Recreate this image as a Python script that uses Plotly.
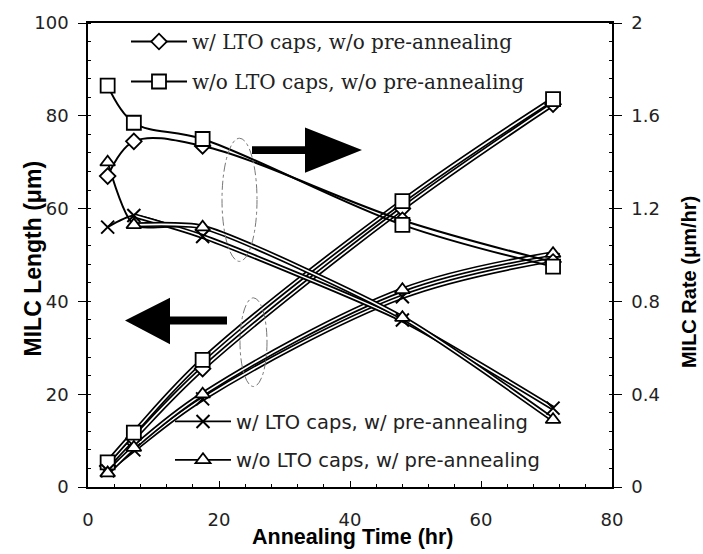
import plotly.graph_objects as go

# Annealing times (hr)
time_hr = [3, 7, 17.5, 48, 71]

# MILC length (um), left axis
len_lto_nopre = [4.5, 10.5, 25.5, 60.0, 82.5]     # w/ LTO caps, w/o pre-annealing
len_nolto_nopre = [5.3, 11.7, 27.4, 61.6, 83.6]   # w/o LTO caps, w/o pre-annealing
len_lto_pre = [3.5, 8.0, 19.0, 41.0, 49.0]        # w/ LTO caps, w/ pre-annealing
len_nolto_pre = [3.0, 8.5, 20.0, 42.5, 50.3]      # w/o LTO caps, w/ pre-annealing

# MILC rate (um/hr), right axis
rate_lto_nopre = [1.34, 1.49, 1.47, 1.15, 0.97]
rate_nolto_nopre = [1.73, 1.57, 1.50, 1.13, 0.95]
rate_lto_pre = [1.12, 1.17, 1.08, 0.72, 0.34]
rate_nolto_pre = [1.40, 1.13, 1.12, 0.73, 0.29]

names = [
    "w/ LTO caps, w/o pre-annealing",
    "w/o LTO caps, w/o pre-annealing",
    "w/ LTO caps, w/ pre-annealing",
    "w/o LTO caps, w/ pre-annealing",
]

SANS = "DejaVu Sans"
SERIF = "DejaVu Serif"
BOLD = "Liberation Sans"

symbols = ["diamond", "square", "x-thin", "triangle-up"]
sizes = [12, 14, 13, 13]

fig = go.Figure()


def marker_style(i):
    if symbols[i] == "x-thin":
        return dict(symbol="x-thin", size=sizes[i], color="black",
                    line=dict(color="black", width=2))
    return dict(symbol=symbols[i], size=sizes[i], color="white",
                line=dict(color="black", width=1.8))


def double_line(x, y, yaxis, smoothing=1.0):
    fig.add_trace(go.Scatter(x=x, y=y, yaxis=yaxis, mode="lines",
                             line=dict(color="black", width=5, shape="spline",
                                       smoothing=smoothing),
                             showlegend=False, hoverinfo="skip"))
    fig.add_trace(go.Scatter(x=x, y=y, yaxis=yaxis, mode="lines",
                             line=dict(color="white", width=1.6, shape="spline",
                                       smoothing=smoothing),
                             showlegend=False, hoverinfo="skip"))


def single_line(x, y, yaxis, smoothing=1.0):
    fig.add_trace(go.Scatter(x=x, y=y, yaxis=yaxis, mode="lines",
                             line=dict(color="black", width=2, shape="spline",
                                       smoothing=smoothing),
                             showlegend=False, hoverinfo="skip"))


lengths = [len_lto_nopre, len_nolto_nopre, len_lto_pre, len_nolto_pre]
rates = [rate_lto_nopre, rate_nolto_nopre, rate_lto_pre, rate_nolto_pre]

# length curves
for i in range(4):
    double_line(time_hr, lengths[i], "y")
# rate curves
for i in range(4):
    if i < 2:
        single_line(time_hr, rates[i], "y2")
    else:
        single_line(time_hr, rates[i], "y2", smoothing=0.6)
        double_line(time_hr[1:], rates[i][1:], "y2", smoothing=0.6)

# markers on top
for i in range(4):
    fig.add_trace(go.Scatter(x=time_hr, y=lengths[i], yaxis="y", mode="markers",
                             marker=marker_style(i), showlegend=False))
    fig.add_trace(go.Scatter(x=time_hr, y=rates[i], yaxis="y2", mode="markers",
                             marker=marker_style(i), showlegend=False))

# legend entries
for i in range(4):
    fig.add_trace(go.Scatter(x=[None], y=[None], mode="lines+markers", name=names[i],
                             line=dict(color="black", width=1.8),
                             marker=marker_style(i), legendgroup=f"g{i}",
                             legend="legend" if i < 2 else "legend2"))

W, H = 703, 554
L, R, T, B = 88, 91, 16, 67


def px(xp):
    return (xp - L) / (W - L - R)


def py(yp):
    return (H - B - yp) / (H - T - B)


shapes = []
# right-pointing arrow (rate axis)
shapes.append(dict(type="path", xref="paper", yref="paper",
                   path=(f"M{px(252)},{py(141)} L{px(305)},{py(141)} L{px(305)},{py(122)} "
                         f"L{px(362)},{py(145)} L{px(305)},{py(168)} L{px(305)},{py(149)} "
                         f"L{px(252)},{py(149)} Z"),
                   fillcolor="black", line=dict(width=0)))
# left-pointing arrow (length axis)
shapes.append(dict(type="path", xref="paper", yref="paper",
                   path=(f"M{px(227)},{py(314)} L{px(170)},{py(314)} L{px(170)},{py(295)} "
                         f"L{px(125)},{py(318)} L{px(170)},{py(342)} L{px(170)},{py(322)} "
                         f"L{px(227)},{py(322)} Z"),
                   fillcolor="black", line=dict(width=0)))
# dash-dot ellipses grouping the curves
shapes.append(dict(type="circle", xref="paper", yref="paper",
                   x0=px(222), x1=px(257), y0=py(258), y1=py(133),
                   line=dict(color="#777", width=1, dash="dashdot")))
shapes.append(dict(type="circle", xref="paper", yref="paper",
                   x0=px(240), x1=px(267), y0=py(385), y1=py(295),
                   line=dict(color="#777", width=1, dash="dashdot")))

annotations = [
    dict(text="<b>MILC Length (\u03bcm)</b>", xref="paper", yref="paper",
         x=px(33), y=py(256), xanchor="center", yanchor="middle",
         textangle=-90, showarrow=False,
         font=dict(family=BOLD, size=23, color="black")),
    dict(text="<b>MILC Rate (\u03bcm/hr)</b>", xref="paper", yref="paper",
         x=px(689), y=py(279), xanchor="center", yanchor="middle",
         textangle=-90, showarrow=False,
         font=dict(family=BOLD, size=20, color="black")),
    dict(text="<b>Annealing Time (hr)</b>", xref="paper", yref="paper",
         x=px(352), y=py(538), xanchor="center", yanchor="middle", showarrow=False,
         font=dict(family=BOLD, size=21.5, color="black")),
]

axis_common = dict(showline=True, linecolor="black", linewidth=1.5,
                   showgrid=False, zeroline=False,
                   tickfont=dict(family=SANS, size=18, color="#222"))

fig.update_layout(
    width=W, height=H,
    margin=dict(l=L, r=R, t=T, b=B),
    paper_bgcolor="white", plot_bgcolor="white",
    shapes=shapes, annotations=annotations,
    xaxis=dict(range=[0, 80], dtick=20, ticks="inside", ticklen=6, tickcolor="black",
               ticklabelstandoff=16, mirror=True,
               minor=dict(dtick=4, ticks="inside", ticklen=3, tickcolor="black"),
               **axis_common),
    yaxis=dict(range=[0, 100], dtick=20, ticks="outside", ticklen=8, tickcolor="black",
               ticklabelstandoff=6,
               minor=dict(dtick=4, ticks="inside", ticklen=3, tickcolor="black"),
               **axis_common),
    yaxis2=dict(range=[0, 2], dtick=0.4, tickformat="~g", overlaying="y", side="right",
                ticks="outside", ticklen=8, tickcolor="black", ticklabelstandoff=6,
                minor=dict(dtick=0.08, ticks="inside", ticklen=3, tickcolor="black"),
                **axis_common),
    legend=dict(x=px(126), y=py(15), xanchor="left", yanchor="top",
                bgcolor="rgba(0,0,0,0)", traceorder="grouped", tracegroupgap=11,
                itemwidth=56, font=dict(family=SERIF, size=20, color="#222")),
    legend2=dict(x=px(170), y=py(401), xanchor="left", yanchor="top",
                 bgcolor="rgba(0,0,0,0)", traceorder="grouped", tracegroupgap=10,
                 itemwidth=56, font=dict(family=SANS, size=19.5, color="#222")),
    showlegend=True,
)

fig.write_html("out.html")
